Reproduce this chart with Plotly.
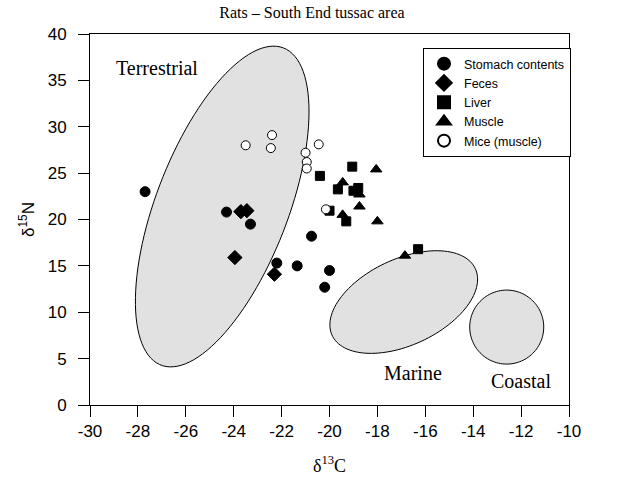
import numpy as np
import plotly.graph_objects as go

# Isotope values (δ13C, δ15N) per sample type
stomach_c = [-27.7, -24.3, -23.3, -22.2, -21.35, -20.75, -20.0, -20.2]
stomach_n = [23.0, 20.8, 19.5, 15.3, 15.0, 18.2, 14.5, 12.7]

feces_c = [-23.7, -23.45, -23.95, -22.3]
feces_n = [20.85, 20.95, 15.9, 14.1]

liver_c = [-20.4, -19.05, -19.65, -18.8, -19.0, -20.0, -19.3, -16.3]
liver_n = [24.7, 25.7, 23.25, 23.4, 23.1, 20.95, 19.8, 16.8]

muscle_c = [-18.05, -19.45, -18.75, -18.75, -18.0, -19.45, -16.85]
muscle_n = [25.4, 24.0, 22.7, 21.4, 19.8, 20.5, 16.1]

mice_c = [-23.5, -22.4, -22.45, -20.45, -21.0, -20.95, -20.95, -20.15]
mice_n = [28.0, 29.1, 27.7, 28.1, 27.2, 26.2, 25.5, 21.1]

X_TICKS = list(range(-30, -9, 2))
Y_TICKS = list(range(0, 41, 5))

# figure geometry
W, H = 623, 480
ML, MR, MT, MB = 90, 54, 34, 75
PW, PH = W - ML - MR, H - MT - MB
XR, YR = (-30, -10), (0, 40)
PX_X = PW / (XR[1] - XR[0])
PX_Y = PH / (YR[1] - YR[0])

# source regions: centre (δ13C, δ15N), semi-axes on screen (px), tilt (deg)
regions = {
    "Terrestrial": dict(c=(-24.48, 21.4), a=170, b=66, ang=68.9),
    "Marine": dict(c=(-16.9, 11.1), a=79, b=43, ang=25),
    "Coastal": dict(c=(-12.6, 8.4), a=37, b=37, ang=0),
}


def ellipse_path(c, a, b, ang, n=120):
    t = np.linspace(0, 2 * np.pi, n)
    th = np.deg2rad(ang)
    dx = a * np.cos(t) * np.cos(th) - b * np.sin(t) * np.sin(th)
    dy = a * np.cos(t) * np.sin(th) + b * np.sin(t) * np.cos(th)
    xs = c[0] + dx / PX_X
    ys = c[1] + dy / PX_Y
    pts = " L ".join(f"{x:.4f},{y:.4f}" for x, y in zip(xs, ys))
    return "M " + pts + " Z"


fig = go.Figure()

for name, r in regions.items():
    fig.add_shape(type="path", path=ellipse_path(r["c"], r["a"], r["b"], r["ang"]),
                  xref="x", yref="y", fillcolor="#e1e1e1",
                  line=dict(color="black", width=1), layer="below")

series = [
    ("Stomach contents", stomach_c, stomach_n, "circle", 10, "black"),
    ("Feces", feces_c, feces_n, "diamond", 11, "black"),
    ("Liver", liver_c, liver_n, "square", 9, "black"),
    ("Muscle", muscle_c, muscle_n, "triangle-up", 10, "black"),
    ("Mice (muscle)", mice_c, mice_n, "circle", 9, "white"),
]
for name, xs, ys, sym, sz, fill in series:
    fig.add_trace(go.Scatter(
        x=xs, y=ys, mode="markers", name=name,
        marker=dict(symbol=sym, size=sz, color=fill,
                    line=dict(color="black", width=1)),
    ))

serif = "Liberation Serif, Times New Roman, serif"
sans = "Liberation Sans, Arial, sans-serif"

labels = [("Terrestrial", -27.2, 36.3), ("Marine", -16.5, 3.45), ("Coastal", -12.0, 2.6)]
for txt, x, y in labels:
    fig.add_annotation(x=x, y=y, text=txt, showarrow=False, xref="x", yref="y",
                       font=dict(family=serif, size=20, color="black"))

axis_common = dict(showline=True, linecolor="black", linewidth=1, mirror=True,
                   ticks="outside", ticklen=11, tickcolor="black", tickwidth=1,
                   showgrid=False, zeroline=False, automargin=False,
                   tickfont=dict(family=sans, size=17, color="black"))

fig.update_layout(
    width=W, height=H,
    margin=dict(l=ML, r=MR, t=MT, b=MB),
    paper_bgcolor="white", plot_bgcolor="white",
    title=dict(text="Rats – South End tussac area", x=312 / W, xanchor="center",
               y=1 - 12 / H, yanchor="middle",
               font=dict(family=serif, size=16, color="black")),
    xaxis=dict(range=XR, tickvals=X_TICKS, ticktext=[str(v) for v in X_TICKS],
               title=dict(text="δ<sup>13</sup>C", font=dict(family=serif, size=18, color="black"),
                          standoff=18),
               **axis_common),
    yaxis=dict(range=YR, tickvals=Y_TICKS, ticktext=[str(v) for v in Y_TICKS],
               ticklabelstandoff=8,
               title=dict(text="δ<sup>15</sup>N", font=dict(family=sans, size=17, color="black"),
                          standoff=8),
               **axis_common),
    legend=dict(x=(423 - ML) / PW, y=(405 - 48) / PH, xanchor="left", yanchor="top",
                bgcolor="white", bordercolor="black", borderwidth=1,
                font=dict(family=sans, size=12.5, color="black"),
                tracegroupgap=0, itemsizing="constant"),
    showlegend=True,
)

fig.write_html("out.html")
